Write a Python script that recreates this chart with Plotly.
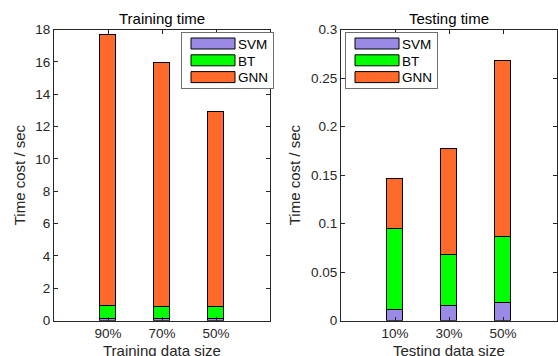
import plotly.graph_objects as go

train_labels = ["90%", "70%", "50%"]
test_labels = ["10%", "30%", "50%"]
positions = [1, 2, 3]

train_svm = [0.13, 0.12, 0.12]
train_bt = [0.79, 0.73, 0.77]
train_gnn = [16.79, 15.09, 12.04]

test_svm = [0.012, 0.0155, 0.019]
test_bt = [0.083, 0.053, 0.068]
test_gnn = [0.052, 0.109, 0.181]

series = ["SVM", "BT", "GNN"]
colors = {"SVM": "#9a8ae6", "BT": "#00ff00", "GNN": "#ff6a2a"}

FONT = "Liberation Sans, Arial, sans-serif"
AX = "#262626"

fig = go.Figure()

train = {"SVM": train_svm, "BT": train_bt, "GNN": train_gnn}
test = {"SVM": test_svm, "BT": test_bt, "GNN": test_gnn}

for name in series:
    fig.add_trace(go.Bar(
        x=positions, y=train[name], name=name, width=0.3,
        marker=dict(color=colors[name], line=dict(color="#000000", width=1)),
        xaxis="x", yaxis="y", legend="legend", showlegend=True,
    ))
for name in series:
    fig.add_trace(go.Bar(
        x=positions, y=test[name], name=name, width=0.3,
        marker=dict(color=colors[name], line=dict(color="#000000", width=1)),
        xaxis="x2", yaxis="y2", legend="legend2", showlegend=True,
    ))

axis_common = dict(
    showline=True, mirror="ticks", linecolor=AX, linewidth=1,
    ticks="inside", ticklen=4, tickcolor=AX, showgrid=False, zeroline=False,
    tickfont=dict(family=FONT, size=13.5, color=AX), automargin=False,
)
title_font = dict(family=FONT, size=15, color=AX)

y_top = 1 - 29.5 / 356
y_bot = 1 - 320.7 / 356

legend_common = dict(
    xanchor="left", yanchor="top", bordercolor="#6f6f6f", borderwidth=1, bgcolor="white",
    font=dict(family=FONT, size=13.5, color="#000000"), traceorder="normal",
    itemwidth=46, tracegroupgap=0,
)

left_dom = [54 / 558, 270 / 558]
right_dom = [341 / 558, 557 / 558]

fig.update_layout(
    width=558, height=356,
    margin=dict(l=0, r=0, t=0, b=0),
    paper_bgcolor="white", plot_bgcolor="white",
    barmode="stack", bargap=0,
    font=dict(family=FONT, size=13.5, color=AX),
    xaxis=dict(domain=left_dom, range=[0, 4], tickvals=positions, ticktext=train_labels,
               anchor="y", **axis_common),
    yaxis=dict(domain=[y_bot, y_top], range=[0, 18], tickvals=list(range(0, 19, 2)),
               title=dict(text="Time cost / sec", font=title_font, standoff=6),
               anchor="x", **axis_common),
    xaxis2=dict(domain=right_dom, range=[0, 4], tickvals=positions, ticktext=test_labels,
                anchor="y2", **axis_common),
    yaxis2=dict(domain=[y_bot, y_top], range=[0, 0.3], tickvals=[0, 0.05, 0.1, 0.15, 0.2, 0.25, 0.3],
                ticktext=["0", "0.05", "0.1", "0.15", "0.2", "0.25", "0.3"],
                title=dict(text="Time cost / sec", font=title_font, standoff=6),
                anchor="x2", **axis_common),
    legend=dict(x=181 / 558, y=1 - 32 / 356, **legend_common),
    legend2=dict(x=345 / 558, y=1 - 32 / 356, **legend_common),
    annotations=[
        dict(text="Training time", x=sum(left_dom) / 2, y=1 - 18 / 356, xref="paper", yref="paper",
             showarrow=False, font=dict(family=FONT, size=15, color="#000000"), xanchor="center", yanchor="middle"),
        dict(text="Testing time", x=sum(right_dom) / 2, y=1 - 18 / 356, xref="paper", yref="paper",
             showarrow=False, font=dict(family=FONT, size=15, color="#000000"), xanchor="center", yanchor="middle"),
        dict(text="Training data size", x=sum(left_dom) / 2, y=1 - 340 / 356, xref="paper", yref="paper",
             showarrow=False, font=title_font, xanchor="center", yanchor="top"),
        dict(text="Testing data size", x=sum(right_dom) / 2, y=1 - 340 / 356, xref="paper", yref="paper",
             showarrow=False, font=title_font, xanchor="center", yanchor="top"),
    ],
)

post_js = """
document.body.style.margin = '0';
document.querySelectorAll('.legendpoints path').forEach(function(p){
  p.setAttribute('d', 'M25,5.5H-19V-5.5H25Z');
});
document.querySelectorAll('g.legend, g.legend2').forEach(function(lg){
  var items = lg.querySelectorAll('g.traces');
  items.forEach(function(t, i){
    var tr = t.getAttribute('transform') || '';
    var m = tr.match(/translate\\(\\s*([-\\d.]+)[ ,]+([-\\d.]+)\\s*\\)/);
    var x = m ? parseFloat(m[1]) : 0;
    t.setAttribute('transform', 'translate(' + x + ',' + (11.5 + i * 16.8) + ')');
  });
  var bg = lg.querySelector('rect.bg');
  if (bg) { bg.setAttribute('height', '56'); }
});
"""

fig.write_html("out.html", post_script=post_js, config={"displayModeBar": False})
